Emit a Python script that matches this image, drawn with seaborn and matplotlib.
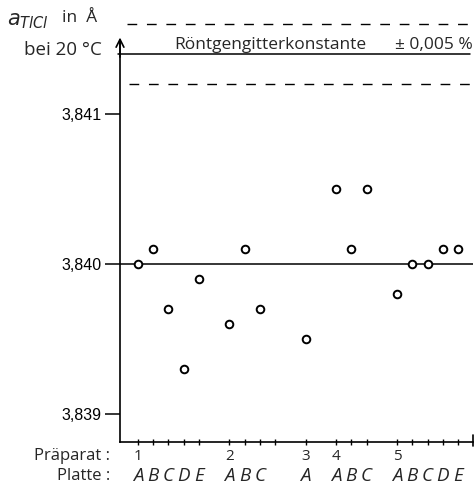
import matplotlib
matplotlib.use("Agg")
import matplotlib.pyplot as plt
import matplotlib.transforms as mtransforms
import numpy as np
import pandas as pd
import seaborn as sns

# ---------------- data ----------------
praeparat = [1, 1, 1, 1, 1, 2, 2, 2, 3, 4, 4, 4, 5, 5, 5, 5, 5]
platte = ["A", "B", "C", "D", "E", "A", "B", "C", "A",
          "A", "B", "C", "A", "B", "C", "D", "E"]
gitter = [3.8400, 3.8401, 3.8397, 3.8393, 3.8399,
          3.8396, 3.8401, 3.8397,
          3.8395,
          3.8405, 3.8401, 3.8405,
          3.8398, 3.8400, 3.8400, 3.8401, 3.8401]
mittelwert = 3.8400
roentgen = 3.8414
toleranz = 0.0002          # +-0.005 %
ytick_vals = [3.839, 3.840, 3.841]
ytick_labels = ["3,839", "3,840", "3,841"]

# ---------------- layout helpers ----------------
# empty slots after each Praeparat group on the x axis
gap_after = {1: 1, 2: 2, 3: 1, 4: 1}
pos = []
cur = 0
prev = praeparat[0]
for p in praeparat:
    if p != prev:
        cur += gap_after[prev]
        prev = p
    pos.append(cur)
    cur += 1

df = pd.DataFrame({"pos": pos, "wert": gitter, "praeparat": praeparat,
                   "platte": platte})

sns.set_theme(style="white")
plt.rcParams["font.family"] = ["Open Sans", "DejaVu Sans"]

W, H = 476, 488
fig = plt.figure(figsize=(W / 100, H / 100), dpi=100)
ax_l, ax_r, ax_b, ax_t = 120, 473.3, 442, 8
ax = fig.add_axes([ax_l / W, (H - ax_b) / H, (ax_r - ax_l) / W, (ax_b - ax_t) / H])

sns.scatterplot(data=df, x="pos", y="wert", ax=ax, marker="o", s=30,
                facecolor="white", edgecolor="black", linewidth=1.4,
                zorder=5, clip_on=False)

xmax = pos[-1] + 1
ax.set_xlim(-1.17, xmax)
ax.set_ylim(3.838813, 3.841707)

# mean line
ax.plot([-1.17, xmax - 0.05], [mittelwert, mittelwert], color="black", lw=1.1,
        zorder=2)
# Röntgen constant with tolerance band
ax.plot([-1.3, xmax - 0.2], [roentgen, roentgen], color="black", lw=1.1,
        clip_on=False)
ax.plot([-0.7, xmax + 0.25], [roentgen + toleranz] * 2, color="black", lw=1.0,
        ls=(0, (7, 7)), clip_on=False)
ax.plot([-0.55, xmax - 0.2], [roentgen - toleranz] * 2, color="black", lw=1.0,
        ls=(0, (7, 7)), clip_on=False)
ax.text(8.7, roentgen + 0.00001, "Röntgengitterkonstante", ha="center",
        va="bottom", fontsize=12.5)
ax.text(xmax - 0.05, roentgen + 0.00001, "± 0,005 %", ha="right",
        va="bottom", fontsize=12.5)

# spines
for s in ["top", "right"]:
    ax.spines[s].set_visible(False)
for s in ["left", "bottom"]:
    ax.spines[s].set_color("black")
    ax.spines[s].set_linewidth(1.2)
ax.spines["left"].set_bounds(3.838813, 3.84148)
ax.annotate("", xy=(0, 3.84151), xycoords=("axes fraction", "data"),
            xytext=(0, 3.84138), textcoords=("axes fraction", "data"),
            arrowprops=dict(arrowstyle="->", lw=1.2, color="black",
                            mutation_scale=14, shrinkA=0, shrinkB=0))
# end mark on x axis
ax.plot([xmax, xmax], [3.838813 - 0.00003, 3.838813 + 0.00005],
        color="black", lw=1.2, clip_on=False)

# y ticks
ax.set_yticks(ytick_vals)
ax.set_yticklabels(ytick_labels, fontfamily="Liberation Sans", fontsize=11.5)
ax.tick_params(axis="y", direction="out", length=11, width=1.1, pad=2,
               left=True, colors="black")

# x ticks: every slot except empty gaps (one extra after group 2)
tick_pos = sorted(set(pos) | {pos[7] + 1})
ax.set_xticks(tick_pos)
ax.set_xticklabels([""] * len(tick_pos))
ax.tick_params(axis="x", direction="inout", length=5, width=1.0,
               bottom=True, colors="black")
ax.set_xlabel("")
ax.set_ylabel("")

# group and plate labels
trans = mtransforms.blended_transform_factory(ax.transData, ax.transAxes)
for p in sorted(set(praeparat)):
    first = df[df.praeparat == p].pos.min()
    ax.annotate(str(p), xy=(first, 0), xycoords=trans, xytext=(0, -14),
                textcoords="offset pixels", ha="center", va="center",
                fontsize=11)
for x, l in zip(pos, platte):
    ax.annotate(l, xy=(x, 0), xycoords=trans, xytext=(0, -34),
                textcoords="offset pixels", ha="center", va="center",
                fontsize=13.5, fontstyle="italic")

fig.text(110 / W, 1 - 456 / H, "Präparat :", ha="right", va="center",
         fontsize=12)
fig.text(110 / W, 1 - 476 / H, "Platte :", ha="right", va="center",
         fontsize=12)

# y-axis label
fig.text(7 / W, 1 - 21 / H, r"$a_{TlCl}$", ha="left", va="center",
         fontsize=15)
fig.text(62 / W, 1 - 18 / H, "in  Å", ha="left", va="center", fontsize=12.5)
fig.text(102 / W, 1 - 50 / H, "bei 20 °C", ha="right", va="center",
         fontsize=13.5)

fig.savefig("out.png", dpi=100)
